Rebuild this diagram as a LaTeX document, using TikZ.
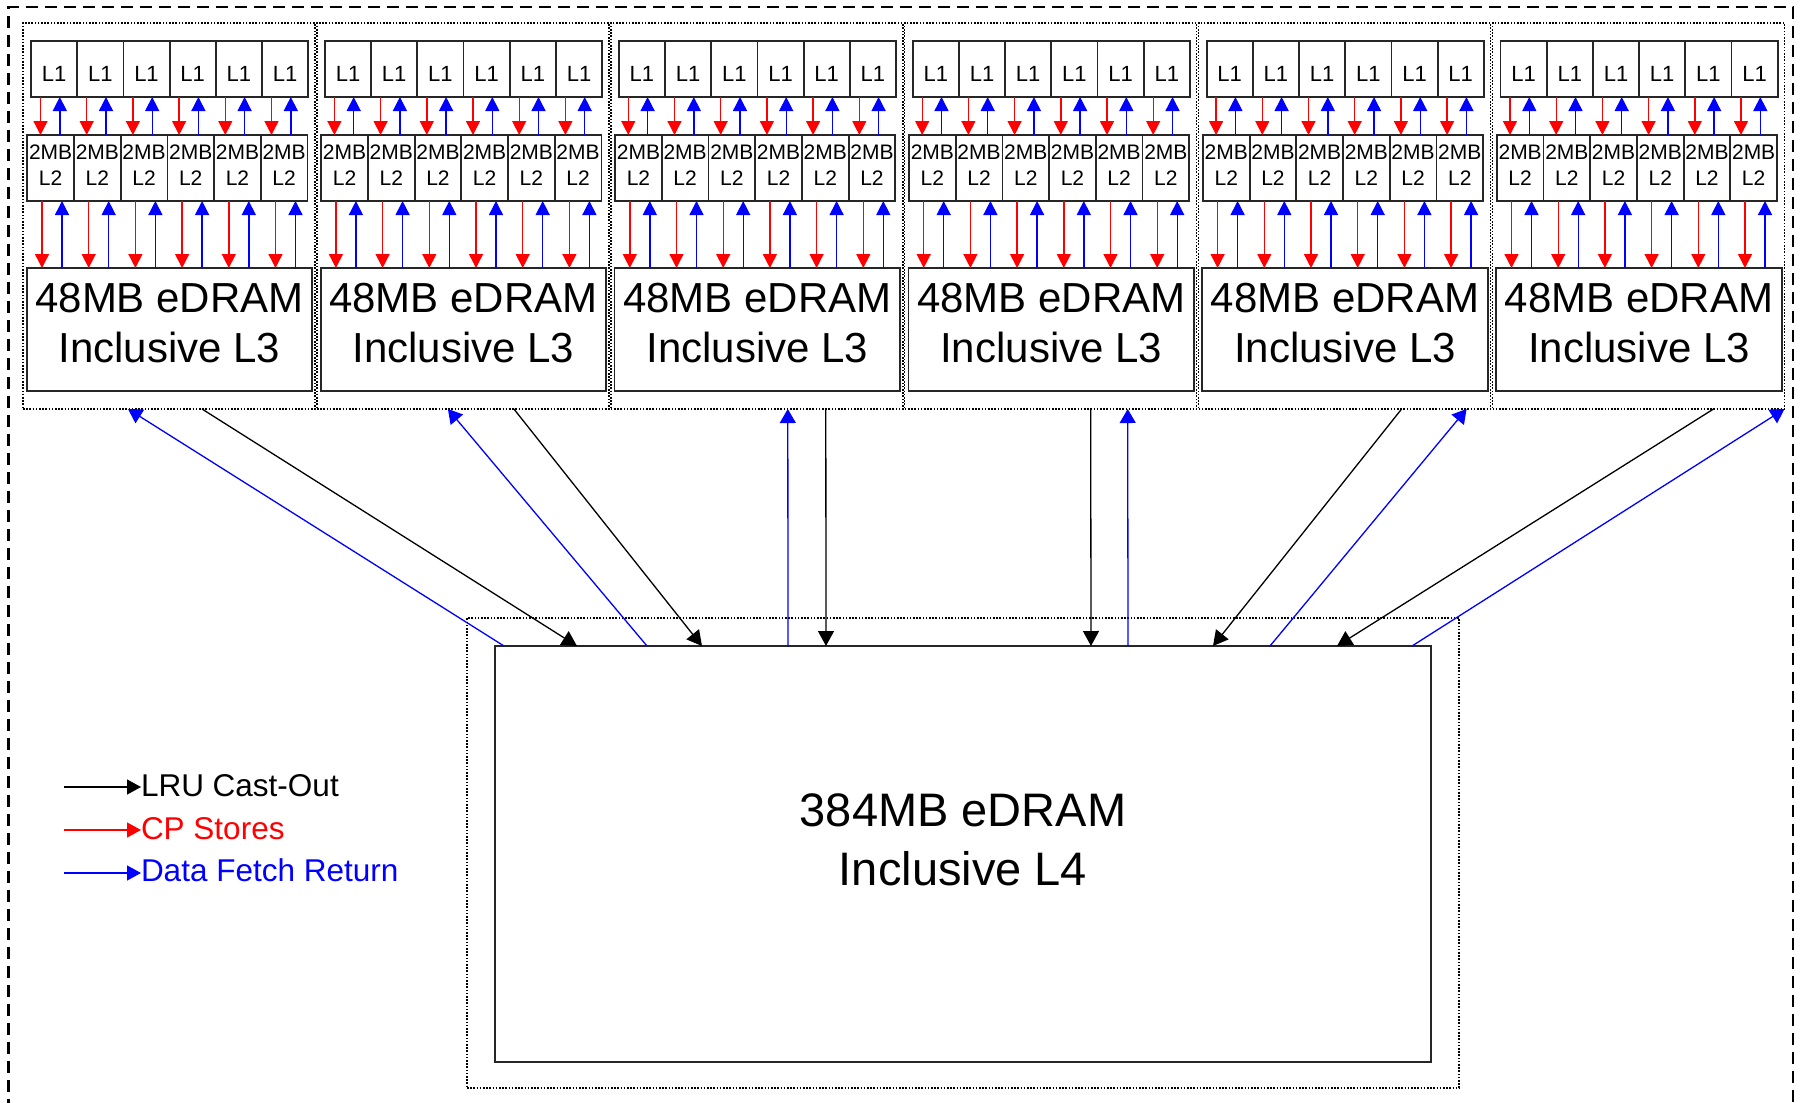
\documentclass[tikz,border=0pt]{standalone}
\usepackage{fontspec}
\setmainfont{Liberation Sans}
\usetikzlibrary{arrows.meta}
\begin{document}
\begin{tikzpicture}[x=1pt,y=-1pt,
  every node/.style={inner sep=0pt, outer sep=0pt},
  cachebox/.style={rectangle, draw=black!85, line width=1.8pt, align=center},
  l1box/.style={cachebox, minimum width=46.2pt, minimum height=56pt,
    font=\fontsize{22}{26}\selectfont, text height=25.4pt, text depth=0pt},
  l2box/.style={cachebox, minimum width=46.7pt, minimum height=66pt,
    font=\fontsize{21}{26}\selectfont, text height=41pt, text depth=7pt},
  l3box/.style={cachebox, minimum width=285.6pt, minimum height=123pt,
    font=\fontsize{42}{50}\selectfont, text height=80pt, text depth=15pt},
  l4box/.style={cachebox, minimum width=936pt, minimum height=416pt,
    font=\fontsize{47}{59}\selectfont, text height=93pt, text depth=31pt},
  dotframe/.style={rectangle, draw=black, line width=1.4pt, dash pattern=on 1.6pt off 1.6pt},
  storearr/.style={draw=red, line width=1.4pt, -{Triangle[length=14pt,width=14pt]}},
  fetcharr/.style={draw=blue, line width=1.4pt, -{Triangle[length=14pt,width=14pt]}},
  linkfetch/.style={draw=blue, line width=1.3pt, -{Triangle[length=14pt,width=16pt]}},
  linkcast/.style={draw=black, line width=1.3pt, -{Triangle[length=15pt,width=16pt]}},
  legendarr/.style={line width=1.4pt, -{Triangle[length=14pt,width=15pt]}},
  legendtext/.style={anchor=base west, font=\fontsize{31.5}{36}\selectfont}
]
\useasboundingbox (0,0) rectangle (1800,1103);

% outer dashed frame, open at the bottom of the page
\begin{scope}
  \clip (0,0) rectangle (1800,1103);
  \draw[line width=2.5pt, dash pattern=on 12pt off 7pt] (8.5,1130) |- (1793,7) -- (1793,1130);
\end{scope}

% six processor chips: L1 / L2 per core and a shared L3
\foreach \g in {1,...,6}{
  \pgfmathsetmacro\gx{23+293.9*(\g-1)}
  \node[dotframe, minimum width=292pt, minimum height=386pt, anchor=north west] (g\g) at (\gx,23) {};
  \node[l3box, anchor=north west] (l3-\g) at (\gx+3.7,268) {48MB eDRAM\\Inclusive L3};
  \foreach \c in {0,...,5}{
    \pgfmathsetmacro\ax{\gx+8+46.2*\c}
    \pgfmathsetmacro\bx{\gx+4.3+46.7*\c}
    \node[l1box, anchor=north west] (l1-\g-\c) at (\ax,41) {L1};
    \node[l2box, anchor=north west] (l2-\g-\c) at (\bx,135) {2MB\\L2};
  }
  \foreach \c in {0,...,5}{
    \draw[storearr] ([xshift=9.5pt]l1-\g-\c.south west) -- ([xshift=9.5pt]l1-\g-\c.south west |- l2-\g-\c.north);
    \draw[fetcharr] ([xshift=28.8pt]l1-\g-\c.south west |- l2-\g-\c.north) -- ([xshift=28.8pt]l1-\g-\c.south west);
    \draw[storearr] ([xshift=14.7pt]l2-\g-\c.south west) -- ([xshift=14.7pt]l2-\g-\c.south west |- l3-\g.north);
    \draw[fetcharr] ([xshift=34.7pt]l2-\g-\c.south west |- l3-\g.north) -- ([xshift=34.7pt]l2-\g-\c.south west);
  }
}

% shared L4
\node[dotframe, minimum width=992pt, minimum height=470pt, anchor=north west] (l4f) at (467,618) {};
\node[l4box, anchor=north west] (l4) at (495,646) {384MB eDRAM\\Inclusive L4};

% chip <-> L4 links
\draw[linkfetch] ([xshift=9pt]l4.north west)   -- ([xshift=105pt]g1.south west);
\draw[linkcast]  ([xshift=179pt]g1.south west) -- ([xshift=82pt]l4.north west);
\draw[linkfetch] ([xshift=152pt]l4.north west) -- ([xshift=131pt]g2.south west);
\draw[linkcast]  ([xshift=197pt]g2.south west) -- ([xshift=207pt]l4.north west);
\draw[linkfetch] ([xshift=293pt]l4.north west) -- ([xshift=177pt]g3.south west);
\draw[linkcast]  ([xshift=215pt]g3.south west) -- ([xshift=331pt]l4.north west);
\draw[linkcast]  ([xshift=186pt]g4.south west) -- ([xshift=596pt]l4.north west);
\draw[linkfetch] ([xshift=633pt]l4.north west) -- ([xshift=223pt]g4.south west);
\draw[linkcast]  ([xshift=203pt]g5.south west) -- ([xshift=718pt]l4.north west);
\draw[linkfetch] ([xshift=775pt]l4.north west) -- ([xshift=268pt]g5.south west);
\draw[linkcast]  ([xshift=221pt]g6.south west) -- ([xshift=842pt]l4.north west);
\draw[linkfetch] ([xshift=917pt]l4.north west) -- (g6.south east);

% legend
\node[legendtext] (lgA) at (141,796) {LRU Cast-Out};
\node[legendtext, text=red] (lgB) at (141,839) {CP Stores};
\node[legendtext, text=blue] (lgC) at (141,881) {Data Fetch Return};
\coordinate (lsA) at (64,787);
\coordinate (lsB) at (64,830);
\coordinate (lsC) at (64,873);
\draw[legendarr, draw=black] (lsA) -- (lsA -| lgA.west);
\draw[legendarr, draw=red]   (lsB) -- (lsB -| lgB.west);
\draw[legendarr, draw=blue]  (lsC) -- (lsC -| lgC.west);
\end{tikzpicture}
\end{document}
